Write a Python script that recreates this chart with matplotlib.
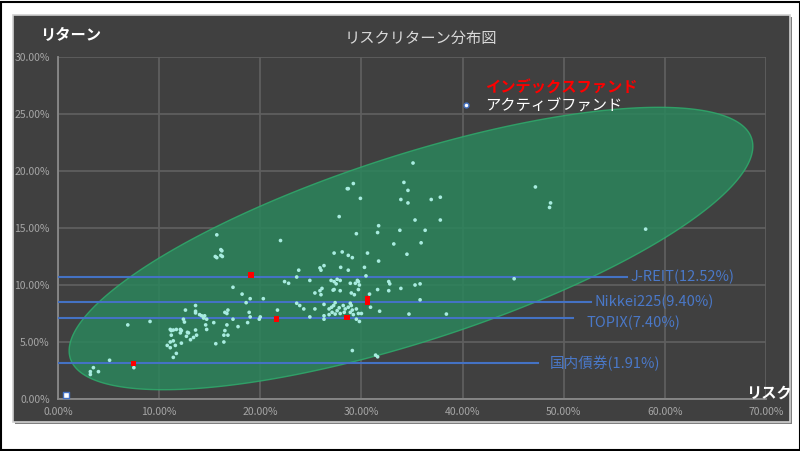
import numpy as np
import matplotlib
matplotlib.use("Agg")
import matplotlib.pyplot as plt
from matplotlib.patches import Rectangle, Polygon
from matplotlib.lines import Line2D

plt.rcParams['font.family'] = ['Noto Sans CJK JP', 'DejaVu Sans']

# アクティブファンド (リスク%, リターン%)
active_risk = [3.2, 3.2, 3.5, 4.0, 5.1, 7.5, 6.9, 9.1,
               10.8, 11.1, 11.1, 11.4, 11.6, 11.4, 11.7, 11.1, 11.2, 11.4, 11.7, 11.2,
               12.1, 12.2, 12.1, 12.2, 12.6, 12.4, 12.5, 12.8, 12.9, 12.7, 13.1, 13.4, 13.7, 13.6,
               13.6, 13.6, 13.6, 14.0, 14.2, 14.5, 14.4, 14.7, 14.6, 14.7, 15.4, 15.6,
               16.4, 16.4, 16.8, 16.5, 16.7, 16.5, 16.7, 16.8, 17.3, 17.8, 18.75, 19.9,
               18.9, 19.0, 18.6, 19.0, 18.2, 17.3, 20.3, 20.0, 21.7,
               15.7, 16.1, 16.2, 15.55, 15.7, 16.1, 16.25,
               22.0, 22.4, 22.8, 23.6, 23.8, 24.9,
               25.9, 26.3, 26.0, 27.95, 28.7, 30.3, 31.7, 30.45,
               27.0, 27.3, 27.5, 27.9, 27.6,
               28.9, 29.4, 29.7, 29.6, 29.8,
               32.7, 32.8, 33.9, 35.3, 35.8,
               25.4, 25.9, 26.1, 26.0, 27.2, 27.3, 27.9, 29.0, 29.3, 29.7, 30.8, 31.6, 32.7,
               35.8,
               23.6, 23.9, 24.3, 25.4, 26.3, 26.8, 27.05, 27.25, 27.4, 27.6, 27.8, 28.2, 28.4,
               28.9, 29.0, 28.7, 29.1, 29.5, 29.7, 30.0, 30.9, 31.8, 34.7, 38.4,
               26.3, 26.8, 27.1, 27.4, 27.9, 28.3, 28.9, 29.2, 29.5, 29.8,
               24.9, 26.3,
               29.1, 31.4, 31.6,
               35.1, 29.2, 28.7, 28.6, 34.2, 34.6, 33.9, 34.6, 36.9, 37.8, 29.9, 27.8,
               35.3, 37.8, 31.7, 31.6, 33.8, 36.3, 29.5, 35.9, 33.2, 34.5,
               27.3, 28.1, 28.7, 29.1, 30.6,
               47.2, 48.7, 48.6, 58.1, 45.1]
active_return = [2.4, 2.15, 2.75, 2.4, 3.4, 2.75, 6.5, 6.8,
                 4.7, 4.5, 5.0, 5.1, 4.7, 3.65, 4.0, 6.1, 6.0, 6.05, 6.1, 5.6,
                 6.1, 6.0, 5.8, 4.9, 7.8, 7.0, 6.75, 5.85, 5.8, 5.5, 5.2, 5.4, 5.6, 6.05,
                 8.2, 7.7, 7.55, 7.4, 7.3, 7.3, 7.1, 7.0, 6.5, 6.1, 6.7, 4.85,
                 5.0, 5.6, 5.6, 6.0, 6.5, 7.6, 7.5, 7.8, 7.0, 6.35, 6.7, 7.0,
                 7.6, 7.2, 8.45, 8.8, 9.2, 9.8, 8.8, 7.2, 7.8,
                 14.4, 13.1, 13.0, 12.5, 12.4, 12.6, 12.5,
                 13.9, 10.3, 10.15, 10.7, 11.3, 10.4,
                 11.5, 11.7, 11.3, 11.55, 11.3, 11.55, 12.1, 10.8,
                 10.4, 10.3, 10.1, 10.4, 10.5,
                 10.15, 10.15, 10.3, 10.4, 10.0,
                 10.3, 10.1, 9.7, 10.0, 10.1,
                 9.3, 9.5, 9.7, 9.15, 9.55, 9.6, 9.5, 9.3, 9.15, 9.6, 9.2, 9.6, 9.5,
                 8.7,
                 8.4, 8.2, 7.9, 7.9, 8.3, 7.9, 8.05, 8.2, 8.45, 7.75, 8.0, 8.2, 7.9,
                 8.4, 8.2, 8.05, 7.8, 7.9, 7.5, 7.5, 8.05, 7.7, 7.45, 7.45,
                 7.3, 7.4, 7.6, 7.45, 7.5, 7.6, 7.6, 7.4, 7.0, 6.8,
                 7.2, 7.0,
                 4.25, 3.85, 3.7,
                 20.7, 18.9, 18.45, 18.45, 19.0, 18.3, 17.5, 17.2, 17.5, 17.7, 17.6, 16.0,
                 15.7, 15.7, 15.2, 14.6, 14.8, 14.8, 14.5, 13.7, 13.6, 12.7,
                 12.8, 12.9, 12.6, 12.4, 12.8,
                 18.6, 17.2, 16.8, 14.9, 10.55]

# インデックスファンド
index_risk = [7.45, 21.6, 28.6, 30.6, 30.6, 19.1]
index_return = [3.1, 7.0, 7.15, 8.5, 8.8, 10.9]

# 原点付近の点
other_risk = [0.8]
other_return = [0.35]

# 指数の水平線
bench_names = ['J-REIT(12.52%)', 'Nikkei225(9.40%)', 'TOPIX(7.40%)', '国内債券(1.91%)']
bench_level = [10.7, 8.5, 7.1, 3.16]

x_ticks = [0, 10, 20, 30, 40, 50, 60, 70]
y_ticks = [0, 5, 10, 15, 20, 25, 30]

W, H = 800, 451
fig = plt.figure(figsize=(W / 100, H / 100), dpi=100)
fig.patch.set_facecolor('white')

# 外枠とチャートエリア
fig.add_artist(Rectangle((0.5 / W, 1 - 449.5 / H), 799 / W, 448 / H, transform=fig.transFigure,
                         fill=False, edgecolor='black', lw=1.5, zorder=-3))
fig.add_artist(Rectangle((15 / W, 1 - 424 / H), 777 / W, 407 / H, transform=fig.transFigure,
                         facecolor='#7f7f7f', edgecolor='none', zorder=-3))
fig.add_artist(Rectangle((13 / W, 1 - 422 / H), 777 / W, 407 / H, transform=fig.transFigure,
                         facecolor='#404040', edgecolor='#d0d0d0', lw=1.2, zorder=-2))

ax = fig.add_axes([58 / W, 1 - 399 / H, 708 / W, 342 / H])
ax.set_zorder(1)
ax.set_facecolor('none')
ax.set_xlim(0, 70)
ax.set_ylim(0, 30)
ax.set_xticks(x_ticks)
ax.set_yticks(y_ticks)
ax.set_xticklabels(['%.2f%%' % v for v in x_ticks])
ax.set_yticklabels(['%.2f%%' % v for v in y_ticks])
ax.tick_params(length=0, colors='#a6a6a6', labelsize=7.5, pad=6)
ax.grid(True, color='#5f5f5f', lw=1.3)
ax.set_axisbelow(True)
for s in ['top', 'right']:
    ax.spines[s].set_visible(False)
for s in ['left', 'bottom']:
    ax.spines[s].set_color('#8a8a8a')
    ax.spines[s].set_linewidth(1.3)

# 楕円 (ピクセル比で回転)
px_x = 708 / 70.0
px_y = 342 / 30.0
cx, cy = 34.9, 13.2
a_px, b_px, ang = 358, 93, np.radians(17.9)
t = np.linspace(0, 2 * np.pi, 300)
ex = a_px * np.cos(ang) * np.cos(t) - b_px * np.sin(ang) * np.sin(t)
ey = a_px * np.sin(ang) * np.cos(t) + b_px * np.cos(ang) * np.sin(t)
ell = Polygon(np.column_stack([cx + ex / px_x, cy + ey / px_y]), closed=True,
              facecolor=(0.17, 0.52, 0.36), alpha=0.85, edgecolor='#2fab6c', lw=1.0, zorder=2)
ax.add_patch(ell)

# 指数ライン
line_end = [56.3, 52.7, 50.9, 47.5]
label_x = [56.6, 53.0, 52.3, 48.6]
label_dy = [0, 0, -0.45, 0]
for name, lev, xe, lx, dy in zip(bench_names, bench_level, line_end, label_x, label_dy):
    ax.plot([0, xe], [lev, lev], color='#4472c4', lw=1.5, zorder=3)
    ax.text(lx, lev + dy, name, color='#4a78c8', fontsize=10.5, va='center', ha='left', zorder=5)

ax.scatter(active_risk, active_return, s=7, color='#a8ece0', edgecolors='none', zorder=4)
ax.scatter(index_risk, index_return, s=16, marker='s', color='#ff0000', edgecolors='none', zorder=5)
ax.scatter(other_risk, other_return, s=16, marker='s', color='white', edgecolors='#4472c4', lw=1, zorder=5)

handles = [Line2D([], [], ls='none'),
           Line2D([], [], ls='none', marker='o', markersize=3.5, markerfacecolor='white',
                  markeredgecolor='#4472c4')]
leg = ax.legend(handles, ['インデックスファンド', 'アクティブファンド'], loc='upper left',
                bbox_to_anchor=((458 - 58) / 708, (399 - 80) / 342), frameon=False,
                fontsize=11, handlelength=1.0, handletextpad=0.75, borderpad=0,
                borderaxespad=0, labelspacing=0.12)
leg.get_texts()[0].set_color('#ff0000')
leg.get_texts()[0].set_fontweight('bold')
leg.get_texts()[1].set_color('white')

fig.text(421 / W, 1 - 38 / H, 'リスクリターン分布図', color='#d9d9d9', fontsize=11, ha='center', va='center')
fig.text(71 / W, 1 - 35 / H, 'リターン', color='white', fontsize=11, fontweight='bold', ha='center', va='center')
fig.text(769 / W, 1 - 393 / H, 'リスク', color='white', fontsize=11, fontweight='bold', ha='center', va='center')

fig.savefig('out.png', dpi=100)
